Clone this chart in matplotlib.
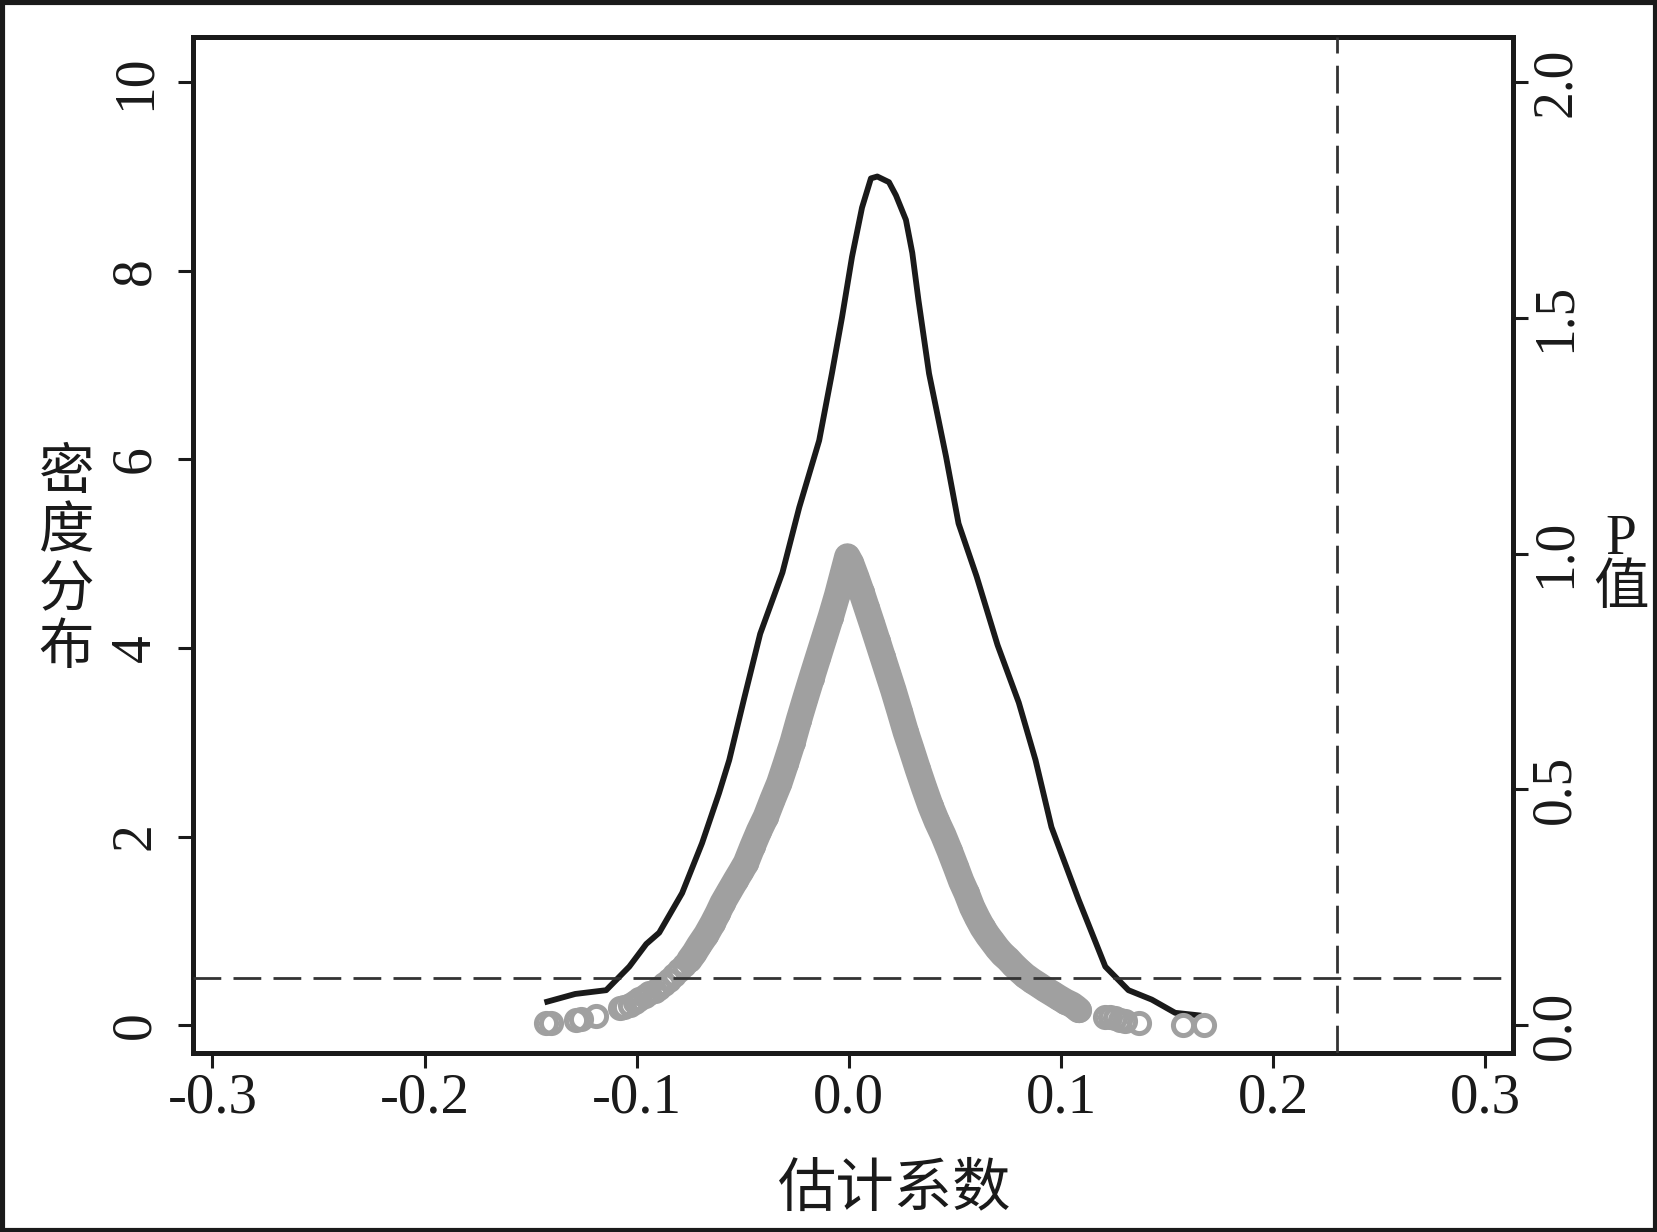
import numpy as np
import matplotlib
matplotlib.use("Agg")
import matplotlib.pyplot as plt
from matplotlib.patches import Rectangle

plt.rcParams['axes.unicode_minus'] = False

# kernel density of the estimated coefficients (left axis)
dens_x = [-0.1435, -0.129, -0.1144, -0.1035, -0.0955, -0.0894, -0.0786, -0.0692,
          -0.0612, -0.0564, -0.0493, -0.0418, -0.0313, -0.0234, -0.014, -0.008,
          -0.0032, 0.0015, 0.0062, 0.0104, 0.0134, 0.0189, 0.0222, 0.0269, 0.0299,
          0.0328, 0.0378, 0.0458, 0.0517, 0.0602, 0.0701, 0.0801, 0.088, 0.0955,
          0.1083, 0.1209, 0.1318, 0.1428, 0.1538, 0.1662]
dens_y = [0.24, 0.33, 0.37, 0.62, 0.86, 0.98, 1.40, 1.93,
          2.46, 2.81, 3.47, 4.15, 4.80, 5.49, 6.20, 6.91,
          7.51, 8.15, 8.67, 8.98, 9.00, 8.94, 8.80, 8.54, 8.19,
          7.69, 6.91, 6.03, 5.32, 4.76, 4.03, 3.42, 2.81, 2.10,
          1.33, 0.62, 0.37, 0.27, 0.13, 0.10]

# p-values of the single estimates (right axis)
pval_x = [-0.1427, -0.1405, -0.1285, -0.1265, -0.1191, -0.1081, -0.1060, -0.1034,
          -0.1010, -0.0987, -0.0963, -0.0940, -0.0915, -0.0893, -0.0870, -0.0846,
          -0.0822, -0.0799, -0.0775, -0.0752, -0.0728, -0.0705, -0.0672, -0.0642,
          -0.0618, -0.0595, -0.0563, -0.0532, -0.0508, -0.0485, -0.0454, -0.0423,
          -0.0391, -0.0360, -0.0328, -0.0297, -0.0265, -0.0235, -0.0205, -0.0175,
          -0.0145, -0.0115, -0.0085, -0.0055, -0.0030, -0.0007,
          0.0010, 0.0035, 0.0060, 0.0085, 0.0110, 0.0135, 0.0160, 0.0185,
          0.0210, 0.0240, 0.0268, 0.0295, 0.0325, 0.0355, 0.0385, 0.0415,
          0.0445, 0.0475, 0.0505, 0.0530, 0.0555, 0.0581, 0.0605, 0.0630,
          0.0655, 0.0675, 0.0700, 0.0725, 0.0750, 0.0775, 0.0800, 0.0830,
          0.0864, 0.0895, 0.0925, 0.0958, 0.0990, 0.1020, 0.1052, 0.1070,
          0.1083, 0.1209, 0.1230, 0.1256, 0.1280, 0.1303, 0.1366, 0.1577, 0.1672]
pval_p = [0.004, 0.005, 0.011, 0.012, 0.020, 0.036, 0.039, 0.043,
          0.049, 0.055, 0.061, 0.068, 0.073, 0.078, 0.087, 0.096,
          0.106, 0.117, 0.127, 0.138, 0.153, 0.170, 0.192, 0.216,
          0.237, 0.259, 0.284, 0.308, 0.326, 0.344, 0.379, 0.412,
          0.442, 0.478, 0.513, 0.555, 0.600, 0.648, 0.693, 0.737,
          0.780, 0.823, 0.866, 0.912, 0.955, 0.994,
          0.980, 0.950, 0.918, 0.884, 0.850, 0.815, 0.780, 0.745,
          0.710, 0.665, 0.622, 0.585, 0.543, 0.503, 0.465, 0.432,
          0.403, 0.370, 0.335, 0.305, 0.280, 0.250, 0.228, 0.207,
          0.190, 0.178, 0.163, 0.150, 0.140, 0.128, 0.117, 0.105,
          0.094, 0.085, 0.076, 0.067, 0.058, 0.050, 0.043, 0.037,
          0.032, 0.018, 0.017, 0.015, 0.011, 0.008, 0.004, 0.001, 0.000]

x_ticks = [-0.3, -0.2, -0.1, 0.0, 0.1, 0.2, 0.3]
x_labels = ['-0.3', '-0.2', '-0.1', '0.0', '0.1', '0.2', '0.3']
y_ticks = [0, 2, 4, 6, 8, 10]
p_ticks = [0.0, 0.5, 1.0, 1.5, 2.0]
p_labels = ['0.0', '0.5', '1.0', '1.5', '2.0']
p_cut = 0.1
x_cut = 0.23

serif = ['Liberation Serif', 'Noto Sans CJK SC']
cjk = ['Noto Sans CJK SC', 'DejaVu Sans']
black = '#1a1a1a'
grey = '#a0a0a0'

fig = plt.figure(figsize=(16.57, 12.32), dpi=100)
ax = fig.add_axes([0.1167, 0.145, 0.7963, 0.825])
ax2 = ax.twinx()

ax.plot(dens_x, dens_y, color=black, lw=4.2, solid_joinstyle='round',
        solid_capstyle='butt', zorder=3)

px = np.array(pval_x)
pp = np.array(pval_p)
dense = ((px < 0) & (pp >= 0.13)) | ((px >= 0) & (pp >= 0.03))
ax2.plot(px[dense], pp[dense], color=grey, lw=19, solid_capstyle='round',
         solid_joinstyle='round', zorder=2)
ax2.plot(px, pp, 'o', mfc='none', mec=grey, ms=14.5, mew=3.6, zorder=2)

ax2.axhline(p_cut, color='#333333', lw=2, dashes=(10, 4.4), zorder=4)
ax2.axvline(x_cut, color='#333333', lw=2, dashes=(10, 4.4), zorder=4)

ax.set_xlim(-0.309, 0.313)
ax.set_ylim(-0.30, 10.48)
ax2.set_ylim(-0.06, 2.096)

ax.set_xticks(x_ticks)
ax.set_xticklabels(x_labels, family=serif, fontsize=41)
ax.set_yticks(y_ticks)
ax.set_yticklabels([str(v) for v in y_ticks], family=serif, fontsize=40,
                   rotation=90, va='center')
ax2.set_yticks(p_ticks)
ax2.set_yticklabels(p_labels, family=serif, fontsize=40, rotation=90, va='center')

ax.tick_params(axis='x', length=11, width=2.2, pad=3, colors=black)
ax.tick_params(axis='y', length=11, width=2.2, pad=12, colors=black)
ax2.tick_params(axis='y', length=11, width=2.2, pad=1, colors=black)

for a in (ax, ax2):
    for s in a.spines.values():
        s.set_linewidth(3.6)
        s.set_color(black)

fig.text(0.040, 0.545, '密\n度\n分\n布', ha='center', va='center',
         fontsize=40, linespacing=1.02, family=cjk, color=black)
fig.text(0.978, 0.541, 'P\n值', ha='center', va='center',
         fontsize=40, linespacing=0.95, family=serif, color=black)
fig.text(0.540, 0.035, '估计系数', ha='center', va='center',
         fontsize=42, family=cjk, color=black)

fig.patches.append(Rectangle((0, 0), 1, 1, transform=fig.transFigure,
                             fill=False, lw=6.6, edgecolor=black))

fig.savefig('out.png', dpi=100)
